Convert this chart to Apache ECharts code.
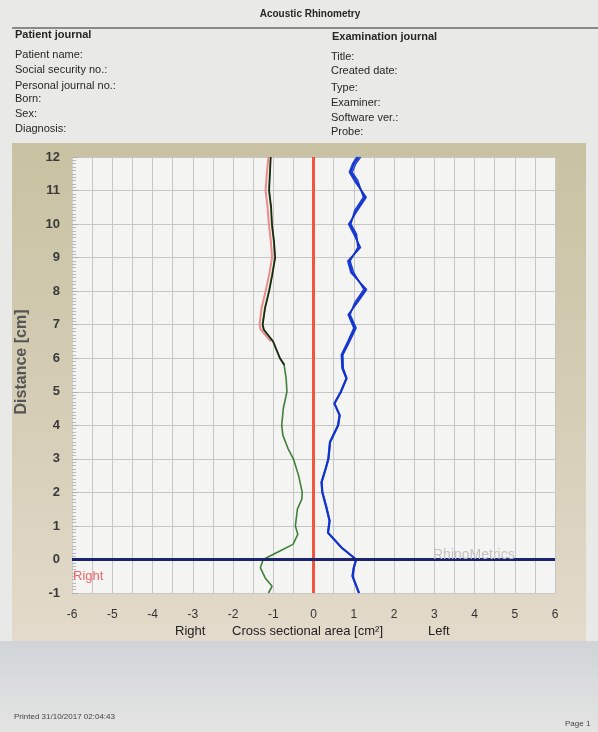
<!DOCTYPE html>
<html>
<head>
<meta charset="utf-8">
<style>
html,body{margin:0;padding:0;background:#e9e9e7;}
#chart{width:598px;height:732px;}
</style>
<script src="https://cdn.jsdelivr.net/npm/echarts@6/dist/echarts.min.js"></script>
</head>
<body>
<div id="chart"></div>
<script>
// ---- data (x = cross sectional area cm², y = distance cm) ----
const xTicks = [-6,-5,-4,-3,-2,-1,0,1,2,3,4,5,6];
const yTicks = [-1,0,1,2,3,4,5,6,7,8,9,10,11,12];

const rightDist  = [12, 11.5, 11, 10.5, 10, 9.5, 9, 8.5, 8, 7.5, 7, 6.85, 6.5, 6, 5.8, 5.4, 5, 4.5, 4, 3.7, 3.3, 3, 2.5, 2, 1.8, 1.5, 1, 0.75, 0.45, 0.2, 0, -0.25, -0.55, -0.8, -1];
const rightArea  = [-1.07, -1.09, -1.11, -1.06, -1.04, -0.99, -0.96, -1.03, -1.11, -1.21, -1.27, -1.24, -1.01, -0.84, -0.73, -0.68, -0.66, -0.75, -0.79, -0.76, -0.63, -0.5, -0.37, -0.28, -0.29, -0.4, -0.45, -0.39, -0.51, -0.92, -1.25, -1.32, -1.2, -1.03, -1.12];

const darkDist   = [12, 11.5, 11, 10.5, 10, 9.5, 9, 8.5, 8, 7.5, 7, 6.85, 6.5, 6, 5.8];
const darkArea   = [-1.06, -1.08, -1.10, -1.05, -1.03, -0.98, -0.95, -1.02, -1.10, -1.20, -1.26, -1.23, -1.00, -0.83, -0.72];

const pinkDist   = [12, 11.5, 11, 10.5, 10, 9.5, 9, 8.5, 8, 7.5, 7, 6.85, 6.5];
const pinkArea   = [-1.12, -1.16, -1.19, -1.14, -1.11, -1.06, -1.03, -1.10, -1.19, -1.29, -1.34, -1.31, -1.06];

const leftDist   = [12, 11.8, 11.55, 11.3, 10.8, 10.4, 10, 9.7, 9.3, 8.9, 8.55, 8.05, 7.65, 7.3, 6.9, 6.5, 6.1, 5.7, 5.4, 5, 4.65, 4.3, 4, 3.5, 3, 2.7, 2.3, 2, 1.6, 1.15, 0.8, 0.35, 0, -0.25, -0.5, -1];
const leftArea1  = [1.12, 1.0, 0.92, 1.05, 1.28, 1.06, 0.9, 1.03, 1.14, 0.88, 0.96, 1.29, 1.06, 0.88, 1.03, 0.87, 0.71, 0.72, 0.82, 0.68, 0.52, 0.65, 0.61, 0.41, 0.37, 0.30, 0.20, 0.22, 0.31, 0.40, 0.36, 0.70, 1.06, 1.0, 0.97, 1.13];
const leftArea2  = [1.17, 1.05, 0.96, 1.10, 1.24, 1.02, 0.93, 1.07, 1.10, 0.91, 1.00, 1.25, 1.02, 0.91, 1.06, 0.90, 0.73, 0.74, 0.83, 0.69, 0.53, 0.66, 0.62, 0.42, 0.38, 0.31, 0.21, 0.23, 0.32, 0.41, 0.37, 0.71, 1.07, 1.01, 0.98, 1.14];
const leftArea3  = [1.08, 0.97, 0.89, 1.01, 1.31, 1.09, 0.87, 1.00, 1.17, 0.85, 0.93, 1.32, 1.09, 0.86, 1.00, 0.85, 0.69, 0.71, 0.81, 0.67, 0.51, 0.64, 0.60, 0.40, 0.36, 0.29, 0.19, 0.21, 0.30, 0.39, 0.35, 0.69, 1.05, 0.99, 0.96, 1.12];

const centerLine = [[0, -1], [0, 12]];
const baseLine   = [[-6, 0], [6, 0]];

function pairs(xs, ys){ return ys.map((y,i)=>[xs[i], y]); }

const SANS = '"Liberation Sans",Arial,sans-serif';

const chart = echarts.init(document.getElementById('chart'), null, {renderer:'canvas'});

function txt(x,y,t,opts){
  return {type:'text', x:x, y:y, z:50, style:Object.assign({text:t, fill:'#262626', font:'11px '+SANS, textVerticalAlign:'middle'}, opts||{})};
}

const yName = txt(22,362,'Distance [cm]',{font:'bold 16px '+SANS, fill:'#555', textAlign:'center', textVerticalAlign:'middle'});
yName.rotation = Math.PI/2;

const graphics = [
  {type:'rect', z:-100, shape:{x:0,y:0,width:598,height:732}, style:{fill:'#e9e9e7'}},
  {type:'rect', z:-99, shape:{x:12,y:143,width:574,height:498},
    style:{fill:new echarts.graphic.LinearGradient(0,0,0,1,[{offset:0,color:'#c8c2a2'},{offset:0.5,color:'#d4ccb4'},{offset:1,color:'#e3dacb'}])}},
  {type:'rect', z:-99, shape:{x:0,y:641,width:598,height:91},
    style:{fill:new echarts.graphic.LinearGradient(0,0,0,1,[{offset:0,color:'#d0d4d7'},{offset:1,color:'#e4e4e3'}])}},
  {type:'line', z:-98, shape:{x1:12,y1:28,x2:598,y2:28}, style:{stroke:'#6a6a6a', lineWidth:1.5}},
  txt(310,14,'Acoustic Rhinometry',{font:'bold 10px '+SANS, textAlign:'center'}),
  txt(15,35,'Patient journal',{font:'bold 11px '+SANS}),
  txt(332,37,'Examination journal',{font:'bold 11px '+SANS}),
  txt(15,55,'Patient name:'),
  txt(15,70,'Social security no.:'),
  txt(15,86,'Personal journal no.:'),
  txt(15,99,'Born:'),
  txt(15,114,'Sex:'),
  txt(15,129,'Diagnosis:'),
  txt(331,57,'Title:'),
  txt(331,71,'Created date:'),
  txt(331,88,'Type:'),
  txt(331,103,'Examiner:'),
  txt(331,118,'Software ver.:'),
  txt(331,132,'Probe:'),
  yName,
  txt(73,576,'Right',{font:'13px '+SANS, fill:'#e8676b'}),
  txt(433,555,'RhinoMetrics',{font:'14px '+SANS, fill:'#c2c2c2'}),
  txt(175,631,'Right',{font:'13px '+SANS, fill:'#222'}),
  txt(232,631,'Cross sectional area [cm²]',{font:'13px '+SANS, fill:'#222'}),
  txt(428,631,'Left',{font:'13px '+SANS, fill:'#222'}),
  txt(14,717,'Printed 31/10/2017 02:04:43',{font:'8px '+SANS, fill:'#444'}),
  txt(565,724,'Page 1',{font:'8px '+SANS, fill:'#444'})
];

const option = {
  animation:false,
  backgroundColor:'transparent',
  grid:{left:72, top:157, width:483, height:436, show:true, backgroundColor:'#f4f4f2', borderWidth:0},
  xAxis:{
    type:'value', min:-6, max:6, interval:0.5,
    axisLine:{show:false, onZero:false}, axisTick:{show:false},
    axisLabel:{color:'#333', fontSize:12, fontFamily:SANS, margin:16,
      formatter:function(v){ return xTicks.indexOf(v) >= 0 ? String(v) : ''; }},
    splitLine:{show:true, lineStyle:{color:'#c6c6c6', width:1}}
  },
  yAxis:{
    type:'value', min:-1, max:12, interval:1,
    axisLine:{show:true, onZero:false, lineStyle:{color:'#d0d0d0'}},
    axisTick:{show:true, inside:true, length:6, lineStyle:{color:'#b0b0b0'}},
    minorTick:{show:true, splitNumber:10, length:4, lineStyle:{color:'#b8b8b8'}},
    axisLabel:{color:'#3a3a3a', fontSize:13, fontWeight:'bold', fontFamily:SANS, margin:12,
      formatter:function(v){ return yTicks.indexOf(v) >= 0 ? String(v) : ''; }},
    splitLine:{show:true, lineStyle:{color:'#c6c6c6', width:1}}
  },
  graphic:graphics,
  series:[
    {type:'line', name:'center', data:centerLine, symbol:'none', lineStyle:{color:'#f0573c', width:3}, z:3},
    {type:'line', name:'pink', data:pairs(pinkArea,pinkDist), symbol:'none', lineStyle:{color:'#ec8b8b', width:2}, z:4},
    {type:'line', name:'right', data:pairs(rightArea,rightDist), symbol:'none', lineStyle:{color:'#3f7f3a', width:1.6}, z:5},
    {type:'line', name:'dark', data:pairs(darkArea,darkDist), symbol:'none', lineStyle:{color:'#1f2614', width:1.6}, z:6},
    {type:'line', name:'left3', data:pairs(leftArea3,leftDist), symbol:'none', lineStyle:{color:'#2346d8', width:1.5}, z:5},
    {type:'line', name:'left2', data:pairs(leftArea2,leftDist), symbol:'none', lineStyle:{color:'#1f3fd6', width:1.5}, z:5},
    {type:'line', name:'left1', data:pairs(leftArea1,leftDist), symbol:'none', lineStyle:{color:'#1232cc', width:1.8}, z:6},
    {type:'line', name:'base', data:baseLine, symbol:'none', lineStyle:{color:'#1b246f', width:3}, z:7}
  ]
};
chart.setOption(option);
</script>
</body>
</html>
